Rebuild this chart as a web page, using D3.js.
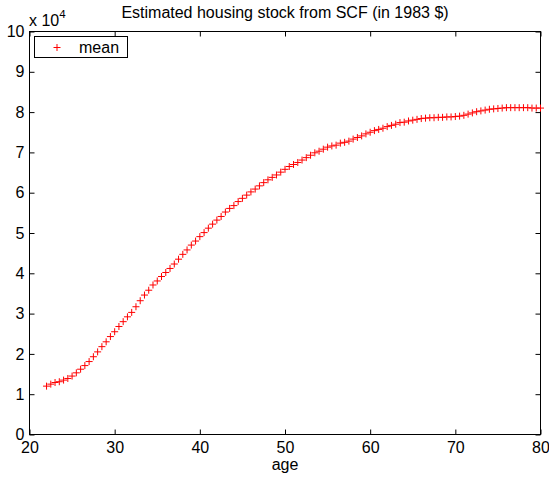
<!DOCTYPE html>
<meta charset="utf-8">
<style>
 body { margin: 0; background: #fff; }
 text {
   font-family: "Liberation Sans", Arial, sans-serif;
   fill: #000;
 }
 .tick line { stroke: #000; }
 .marks path {
   stroke: #ff0000;
   stroke-width: 1;
   fill: none;
 }
</style>
<svg width="549" height="477"></svg>
<script src="https://d3js.org/d3.v7.min.js"></script>
<script>

 var ages = [22, 22.5, 23, 23.5, 24, 24.5, 25, 25.5, 26, 26.5, 27, 27.5, 28, 28.5, 29, 29.5,
             30, 30.5, 31, 31.5, 32, 32.5, 33, 33.5, 34, 34.5, 35, 35.5, 36, 36.5, 37, 37.5,
             38, 38.5, 39, 39.5, 40, 40.5, 41, 41.5, 42, 42.5, 43, 43.5, 44, 44.5, 45, 45.5,
             46, 46.5, 47, 47.5, 48, 48.5, 49, 49.5, 50, 50.5, 51, 51.5, 52, 52.5, 53, 53.5,
             54, 54.5, 55, 55.5, 56, 56.5, 57, 57.5, 58, 58.5, 59, 59.5, 60, 60.5, 61, 61.5,
             62, 62.5, 63, 63.5, 64, 64.5, 65, 65.5, 66, 66.5, 67, 67.5, 68, 68.5, 69, 69.5,
             70, 70.5, 71, 71.5, 72, 72.5, 73, 73.5, 74, 74.5, 75, 75.5, 76, 76.5, 77, 77.5,
             78, 78.5, 79, 79.5, 80];

 // mean housing stock, 1983 dollars
 var meanStock = [12000, 12500, 12900, 13100, 13500, 13900, 14500, 15300, 16200, 17100, 18100, 19300,
                  20500, 21800, 23000, 24300, 25500, 26800, 28000, 29200, 30300, 31700, 33200, 34600,
                  35800, 37100, 38100, 39200, 40200, 41200, 42300, 43500, 44700, 45800, 47000, 48000,
                  49100, 50100, 51200, 52200, 53200, 54100, 55200, 56100, 56800, 57800, 58600, 59400,
                  60200, 60900, 61700, 62500, 63200, 63800, 64400, 65100, 65800, 66500, 67000, 67500,
                  68100, 68700, 69300, 69900, 70300, 70800, 71300, 71600, 71800, 72300, 72500, 72800,
                  73300, 73700, 74100, 74600, 75000, 75400, 75700, 76000, 76400, 76700, 77000, 77400,
                  77500, 77800, 78000, 78200, 78400, 78500, 78600, 78600, 78700, 78700, 78800, 78800,
                  78900, 79000, 79200, 79500, 79800, 80100, 80300, 80500, 80700, 80800, 80900, 81000,
                  81100, 81100, 81100, 81100, 81100, 81100, 81000, 81000, 81000];

 var xTicks = [20, 30, 40, 50, 60, 70, 80];
 var yTicks = [0, 10000, 20000, 30000, 40000, 50000, 60000, 70000, 80000, 90000, 100000];

 var svg = d3.select("svg");
 var axL = 29.5, axR = 540.5, axT = 31.5, axB = 434.5;

 var x = d3.scaleLinear().domain([20, 80]).range([axL, axR]);
 var y = d3.scaleLinear().domain([0, 100000]).range([axB, axT]);

 var data = ages.map(function(a, i) { return {age: a, v: meanStock[i]}; });

 // axes, matlab style: ticks inside, box all round
 var fmt = function(d) { return d / 10000; };

 svg.append("g")
    .attr("transform", "translate(0," + axB + ")")
    .call(d3.axisBottom(x).tickValues(xTicks).tickSize(-5).tickPadding(7).tickSizeOuter(0))
    .call(function(g) { g.select(".domain").remove(); });

 svg.append("g")
    .attr("transform", "translate(0," + axT + ")")
    .call(d3.axisTop(x).tickValues(xTicks).tickSize(-5).tickFormat("").tickSizeOuter(0))
    .call(function(g) { g.select(".domain").remove(); });

 svg.append("g")
    .attr("transform", "translate(" + axL + ",0)")
    .call(d3.axisLeft(y).tickValues(yTicks).tickFormat(fmt).tickSize(-5).tickPadding(5).tickSizeOuter(0))
    .call(function(g) { g.select(".domain").remove(); });

 svg.append("g")
    .attr("transform", "translate(" + axR + ",0)")
    .call(d3.axisRight(y).tickValues(yTicks).tickFormat("").tickSize(-5).tickSizeOuter(0))
    .call(function(g) { g.select(".domain").remove(); });

 svg.selectAll("g").attr("font-family", null).attr("font-size", null);
 svg.selectAll("g.tick text").attr("font-size", 16);

 svg.append("rect")
    .attr("x", axL).attr("y", axT)
    .attr("width", axR - axL).attr("height", axB - axT)
    .attr("fill", "none").attr("stroke", "#000").attr("stroke-width", 1);

 // exponent label
 var ex = svg.append("text").attr("x", 29).attr("y", 26).attr("font-size", 16);
 ex.append("tspan").text("x 10");
 ex.append("tspan").attr("font-size", 11.5).attr("dy", -7.7).text("4");

 svg.append("text")
    .attr("x", (axL + axR) / 2).attr("y", 18.3)
    .attr("text-anchor", "middle").attr("font-size", 16)
    .text("Estimated housing stock from SCF (in 1983 $)");

 svg.append("text")
    .attr("x", (axL + axR) / 2).attr("y", 470)
    .attr("text-anchor", "middle").attr("font-size", 16)
    .text("age");

 // plus markers
 var plus = "M-3.5,0H3.5M0,-3.5V3.5";
 svg.append("g")
    .attr("class", "marks")
    .selectAll("path")
    .data(data)
    .enter().append("path")
    .attr("transform", function(d) { return "translate(" + x(d.age) + "," + y(d.v) + ")"; })
    .attr("d", plus);

 // legend
 svg.append("rect")
    .attr("x", 34.5).attr("y", 36.5).attr("width", 93).attr("height", 21)
    .attr("fill", "#fff").attr("stroke", "#000");
 svg.append("path")
    .attr("d", plus).attr("transform", "translate(57,47.5)")
    .attr("stroke", "#ff0000").attr("fill", "none");
 svg.append("text")
    .attr("x", 79).attr("y", 53.3).attr("font-size", 16)
    .text("mean");
</script>
